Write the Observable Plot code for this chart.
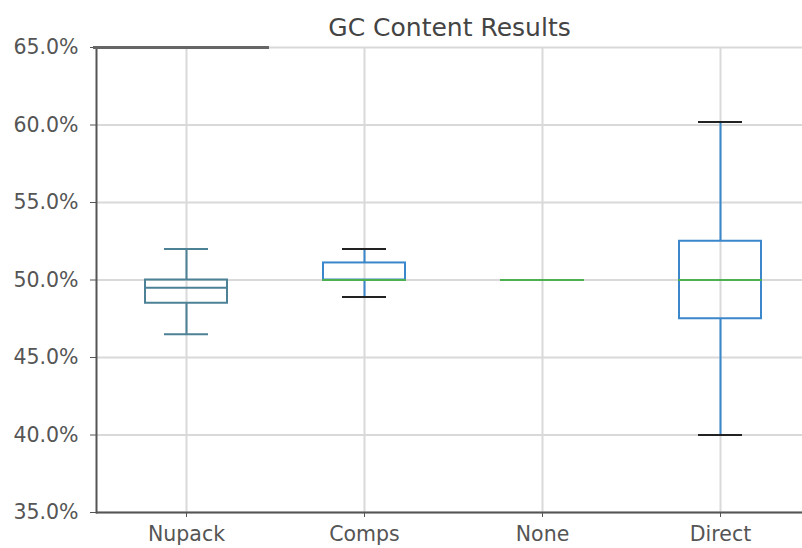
<!DOCTYPE html>
<html><head><meta charset="utf-8">
<script src="https://cdn.jsdelivr.net/npm/d3@7"></script>
<script src="https://cdn.jsdelivr.net/npm/@observablehq/plot@0.6"></script>
<style>body{margin:0;background:#fff}</style>
</head><body><div id="chart"></div>
<script>
const title = "GC Content Results";
const categories = ["Nupack", "Comps", "None", "Direct"];
const q1 = [0.485, 0.500, 0.500, 0.475];
const medians = [0.495, 0.500, 0.500, 0.500];
const q3 = [0.500, 0.511, 0.500, 0.525];
const whiskerLow = [0.465, 0.489, 0.500, 0.400];
const whiskerHigh = [0.520, 0.520, 0.500, 0.602];
const hasBox = [true, true, false, true];
const boxColors = ["#4d8196", "#3a87cb", "#3a87cb", "#3a87cb"];
const medianColors = ["#4d8196", "#4caf50", "#4caf50", "#4caf50"];
const capColors = ["#4d8196", "#222222", "#222222", "#222222"];
const yTicks = [0.35, 0.40, 0.45, 0.50, 0.55, 0.60, 0.65];

const rows = categories.map((c, i) => ({
  cat: c, q1: q1[i], med: medians[i], q3: q3[i], lo: whiskerLow[i], hi: whiskerHigh[i],
  box: hasBox[i], bc: boxColors[i], mc: medianColors[i], cc: capColors[i]
}));
const boxed = rows.filter(d => d.box);

const chart = Plot.plot({
  width: 802,
  height: 548,
  marginTop: 47,
  marginBottom: 36,
  marginLeft: 96,
  marginRight: 0,
  style: {fontFamily: "DejaVu Sans", color: "#555", background: "#fff"},
  x: {type: "band", domain: categories, range: [96, 809], padding: 0},
  y: {domain: [0.35, 0.65]},
  marks: [
    Plot.ruleY(yTicks, {stroke: "#d9d9d9", strokeWidth: 2}),
    Plot.ruleX(categories, {x: d => d, stroke: "#d9d9d9", strokeWidth: 2}),
    Plot.axisY({ticks: yTicks, tickFormat: d3.format(".1%"), fontSize: 20.5, tickSize: 6, tickPadding: 12, stroke: "#555", fill: "#555", label: null}),
    Plot.axisX({fontSize: 20.5, tickSize: 5, tickPadding: 9, stroke: "#555", fill: "#555", label: null}),
    Plot.frame({anchor: "left", stroke: "#555", strokeWidth: 2}),
    Plot.ruleY([0.35], {stroke: "#555", strokeWidth: 2}),
    Plot.tickY([0.65], {x: () => "Nupack", stroke: "#666", strokeWidth: 3, insetLeft: -4, insetRight: 6}),
    Plot.ruleX(boxed, {x: "cat", y1: "q3", y2: "hi", stroke: "bc", strokeWidth: 2}),
    Plot.ruleX(boxed, {x: "cat", y1: "lo", y2: "q1", stroke: "bc", strokeWidth: 2}),
    Plot.barY(boxed, {x: "cat", y1: "q1", y2: "q3", fill: "none", stroke: "bc", strokeWidth: 2, insetLeft: 48, insetRight: 48}),
    Plot.tickY(boxed, {x: "cat", y: "hi", stroke: "cc", strokeWidth: 2, insetLeft: 67, insetRight: 67}),
    Plot.tickY(boxed, {x: "cat", y: "lo", stroke: "cc", strokeWidth: 2, insetLeft: 67, insetRight: 67}),
    Plot.tickY(rows, {x: "cat", y: "med", stroke: "mc", strokeWidth: 2, insetLeft: 47, insetRight: 47}),
    Plot.text([title], {frameAnchor: "top", dy: -29, fontSize: 25, fill: "#444"})
  ]
});
document.getElementById("chart").appendChild(chart);
</script>
</body></html>
